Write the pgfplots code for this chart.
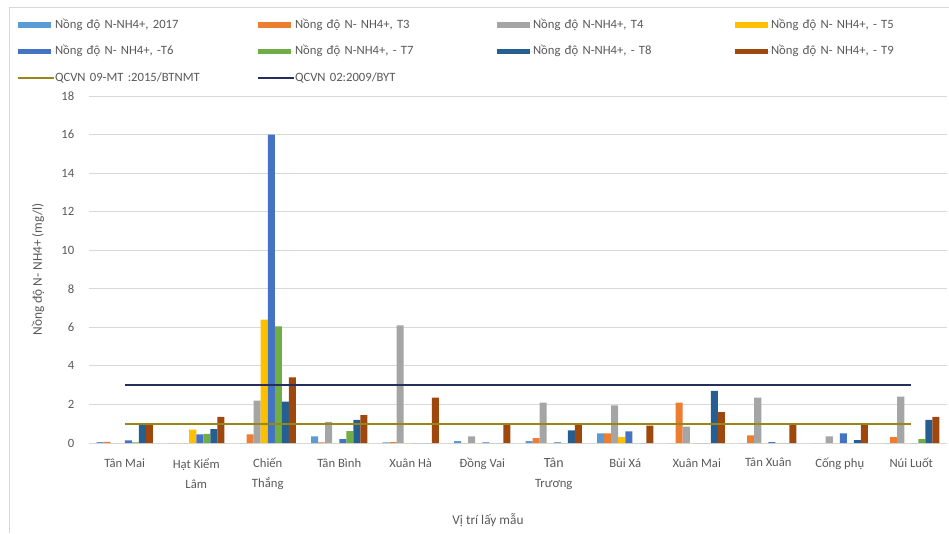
\documentclass[border=0pt]{standalone}
\usepackage{fontspec}
\setmainfont{Carlito}
\usepackage{pgfplots}
\pgfplotsset{compat=1.18}

\definecolor{sA}{HTML}{5B9BD5}
\definecolor{sB}{HTML}{ED7D31}
\definecolor{sC}{HTML}{A5A5A5}
\definecolor{sD}{HTML}{FFC000}
\definecolor{sE}{HTML}{4472C4}
\definecolor{sF}{HTML}{70AD47}
\definecolor{sG}{HTML}{255E91}
\definecolor{sH}{HTML}{9E480E}
\definecolor{qA}{HTML}{9A8618}
\definecolor{qB}{HTML}{262E5E}
\definecolor{txt}{HTML}{595959}
\definecolor{grd}{HTML}{D9D9D9}

\pgfplotsset{
  barleg/.style={legend image code/.code={%
      \fill[##1] (0pt,-1.9pt) rectangle (24.75pt,1.9pt);
      \path (0pt,0pt) -- (27pt,0pt);}},
  lineleg/.style={legend image code/.code={%
      \draw[##1] (0pt,0pt) -- (24.75pt,0pt);
      \path (0pt,0pt) -- (27pt,0pt);}},
  mybar/.style 2 args={ybar, fill=#1, draw=none, bar width=0.098,
      bar shift=#2*0.098, barleg},
}

\begin{document}
\begin{tikzpicture}
\path[use as bounding box] (0,0) rectangle (711.75pt,399.75pt);
% chart frame
\draw[grd, line width=0.75pt] (6.75pt,0pt) -- (6.75pt,393.75pt) -- (711.75pt,393.75pt);
\begin{axis}[
  at={(66.75pt,67.5pt)}, anchor=south west,
  scale only axis, width=643.5pt, height=260.25pt,
  xmin=-0.5, xmax=11.5, ymin=0, ymax=18,
  ytick={0,2,...,18},
  xtick={0,...,11},
  xticklabels={T\^an Mai, Hạt Kiểm\\L\^am, Chiến\\Thắng, T\^an B\`inh, Xu\^an H\`a,
    Đồng Vai, {\fontsize{10.5}{15}\selectfont T\^an\\Trương}, B\`ui X\'a, Xu\^an Mai,
    T\^an Xu\^an, Cống phụ, N\'ui Luốt},
  major tick length=0pt,
  axis x line*=bottom, axis y line*=left,
  x axis line style={draw=grd, line width=0.75pt},
  y axis line style={draw=none},
  ymajorgrids, grid style={draw=grd, line width=0.75pt},
  /pgf/number format/assume math mode=true,
  tick label style={font=\fontsize{9.5}{15}\selectfont, text=txt},
  xticklabel style={align=center, yshift=-8pt},
  yticklabel style={xshift=-7.5pt},
  xlabel={Vị trí lấy mẫu},
  ylabel={Nồng độ N- NH4+ (mg/l)},
  label style={font=\fontsize{10}{12}\selectfont, text=txt},
  xlabel style={at={(axis description cs:0.465,-0.222)}, anchor=center},
  ylabel style={at={(axis description cs:-0.0594,0.5)}, anchor=center},
  legend columns=4,
  legend cell align=left,
  legend style={at={(rel axis cs:-0.0839,1.2219)}, anchor=north west,
    draw=none, fill=none, inner sep=0pt, outer sep=0pt,
    row sep=10.9pt, column sep=0pt,
    nodes={inner sep=0pt, text width=151.5pt, text height=7pt, text depth=2pt,
      font=\fontsize{9.5}{11}\selectfont, text=txt, align=left}},
]
% 2017
\addplot[mybar={sA}{-3.5}] coordinates {(0,0.05) (1,0) (2,0) (3,0.35) (4,0.03) (5,0.1) (6,0.1) (7,0.5) (8,0) (9,0) (10,0) (11,0)};
\addlegendentry{Nồng độ N-NH4+, 2017}
% T3
\addplot[mybar={sB}{-2.5}] coordinates {(0,0.06) (1,0) (2,0.45) (3,0.03) (4,0.05) (5,0) (6,0.25) (7,0.5) (8,2.1) (9,0.4) (10,0) (11,0.3)};
\addlegendentry{Nồng độ N- NH4+, T3}
% T4
\addplot[mybar={sC}{-1.5}] coordinates {(0,0) (1,0) (2,2.2) (3,1.1) (4,6.1) (5,0.35) (6,2.1) (7,1.95) (8,0.85) (9,2.35) (10,0.35) (11,2.4)};
\addlegendentry{Nồng độ N-NH4+, T4}
% T5
\addplot[mybar={sD}{-0.5}] coordinates {(0,0) (1,0.7) (2,6.4) (3,0) (4,0) (5,0) (6,0) (7,0.3) (8,0) (9,0) (10,0) (11,0)};
\addlegendentry{Nồng độ N- NH4+, - T5}
% T6
\addplot[mybar={sE}{0.5}] coordinates {(0,0.13) (1,0.45) (2,16.0) (3,0.2) (4,0) (5,0.03) (6,0.03) (7,0.6) (8,0) (9,0.05) (10,0.5) (11,0)};
\addlegendentry{Nồng độ N- NH4+, -T6}
% T7
\addplot[mybar={sF}{1.5}] coordinates {(0,0.03) (1,0.48) (2,6.05) (3,0.62) (4,0) (5,0) (6,0) (7,0) (8,0) (9,0) (10,0) (11,0.2)};
\addlegendentry{Nồng độ N-NH4+, - T7}
% T8
\addplot[mybar={sG}{2.5}] coordinates {(0,0.95) (1,0.72) (2,2.15) (3,1.2) (4,0) (5,0) (6,0.65) (7,0) (8,2.7) (9,0) (10,0.15) (11,1.2)};
\addlegendentry{Nồng độ N-NH4+, - T8}
% T9
\addplot[mybar={sH}{3.5}] coordinates {(0,0.97) (1,1.35) (2,3.4) (3,1.45) (4,2.35) (5,1.0) (6,1.0) (7,0.9) (8,1.6) (9,1.0) (10,0.95) (11,1.35)};
\addlegendentry{Nồng độ N- NH4+, - T9}
% limit values
\addplot[qA, line width=1.5pt, lineleg] coordinates {(0,1) (11,1)};
\addlegendentry{QCVN 09-MT :2015/BTNMT}
\addplot[qB, line width=1.5pt, lineleg] coordinates {(0,3) (11,3)};
\addlegendentry{QCVN 02:2009/BYT}
\end{axis}
\end{tikzpicture}
\end{document}
